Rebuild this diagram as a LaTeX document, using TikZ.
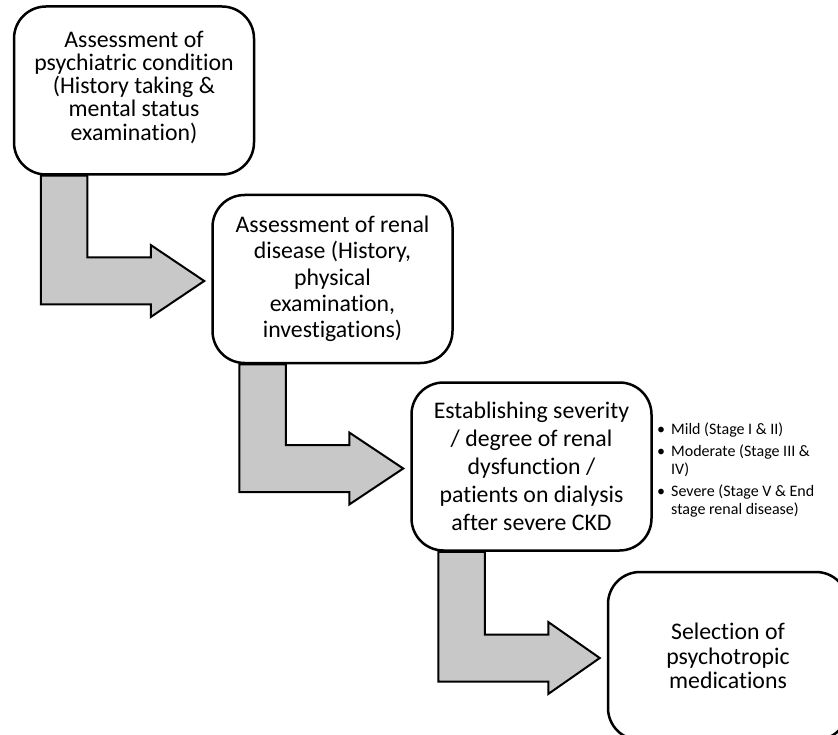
\documentclass[tikz,border=0pt]{standalone}
\usepackage{fontspec}
\setmainfont{Carlito}[Ligatures=NoCommon]
\usetikzlibrary{calc,backgrounds}
\definecolor{arrowgray}{RGB}{200,200,200}
\tikzset{
  stagebox/.style={draw=black, line width=2.5pt, fill=white, rounded corners=32pt,
    minimum width=240pt, minimum height=168pt, align=center, inner sep=0pt,
    font=\fontsize{23.8}{27}\selectfont},
  flowarrow/.style={draw=black, line width=2pt, fill=arrowgray, line join=miter},
  bulletlist/.style={align=left, inner sep=0pt, font=\fontsize{16}{18.3}\selectfont}
}
% bent block arrow leaving the bottom of #1 and pointing at the left side of #2
\newcommand{\stepflow}[2]{%
  \draw[flowarrow] let \p1=(#1.south west), \p2=(#2.west) in
    (\x1+28pt,\y1) -- (\x1+28pt,\y2-25.5pt) -- (\x1+138pt,\y2-25.5pt)
    -- (\x1+138pt,\y2-38pt) -- (\x2-7pt,\y2-2pt) -- (\x1+138pt,\y2+34pt)
    -- (\x1+138pt,\y2+21.5pt) -- (\x1+74.5pt,\y2+21.5pt) -- (\x1+74.5pt,\y1) -- cycle;}
\begin{document}
\begin{tikzpicture}[x=1pt,y=-1pt]
  \useasboundingbox (0,0) rectangle (838,735);
  \clip (0,0) rectangle (838,735);

  \node[stagebox, font=\fontsize{23.8}{23.3}\selectfont, text depth=10pt] (psych) at (134,90.5)
    {Assessment of\\psychiatric condition\\(History taking \&\\mental status\\examination)};
  \node[stagebox, font=\fontsize{23.8}{26.3}\selectfont] (renal) at (332.5,279)
    {Assessment of renal\\disease (History,\\physical\\examination,\\investigations)};
  \node[stagebox, font=\fontsize{23.8}{28}\selectfont] (severity) at (531.5,466.5)
    {Establishing severity\\/ degree of renal\\dysfunction /\\patients on dialysis\\after severe CKD};
  \node[stagebox, font=\fontsize{23.8}{24.5}\selectfont] (select) at (728,656)
    {Selection of\\psychotropic\\medications};

  \node[bulletlist, anchor=north west] (stages) at (657,423)
    {\makebox[14pt][l]{\textbullet}Mild (Stage I \& II)\\[3.4pt]
     \makebox[14pt][l]{\textbullet}Moderate (Stage III \&\\
     \hspace*{14pt}IV)\\[3.4pt]
     \makebox[14pt][l]{\textbullet}Severe (Stage V \& End\\
     \hspace*{14pt}stage renal disease)};

  \begin{scope}[on background layer]
    \stepflow{psych}{renal}
    \stepflow{renal}{severity}
    \stepflow{severity}{select}
  \end{scope}
\end{tikzpicture}
\end{document}
